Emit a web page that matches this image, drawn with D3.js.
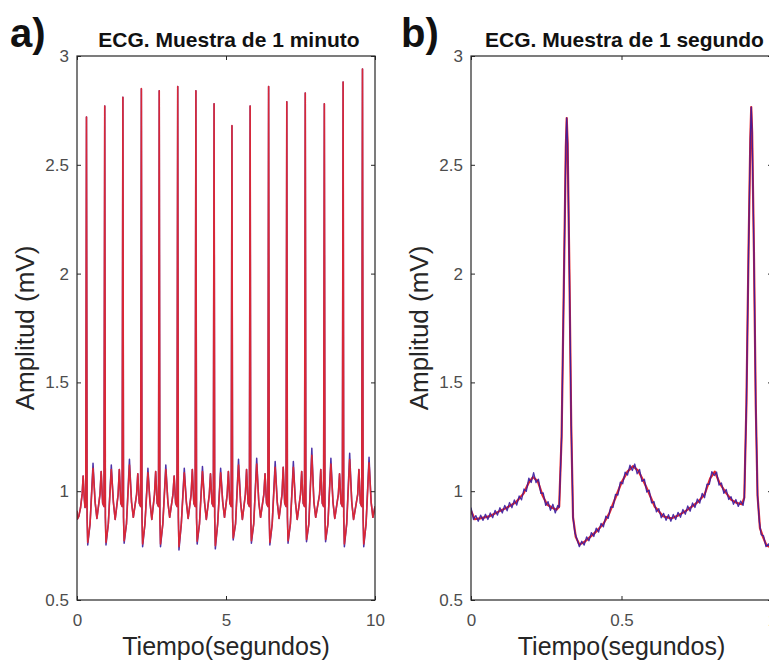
<!DOCTYPE html>
<html>
<head>
<meta charset="utf-8">
<script src="https://cdn.jsdelivr.net/npm/d3@7/dist/d3.min.js"></script>
<style>
    body { margin: 0; background: #fff; }
    svg { display: block; font-family: "Liberation Sans", Arial, Helvetica, sans-serif; }
</style>
</head>
<body>
<div id="chart"></div>
<script>
// ---- data ----
var yTicks = [0.5, 1, 1.5, 2, 2.5, 3];
var aTicks = [0, 5, 10];
var bTicks = [0, 0.5, 1];

// panel a: one value per heartbeat (R time in s, amplitudes in mV)
var aBeatTimes  = [0.318, 0.931, 1.54, 2.16, 2.76, 3.38, 3.99, 4.60, 5.20, 5.81, 6.43, 7.04, 7.66, 8.30, 8.93, 9.58];
var aRPeaks     = [2.72, 2.77, 2.81, 2.85, 2.84, 2.86, 2.84, 2.78, 2.68, 2.77, 2.86, 2.79, 2.83, 2.78, 2.88, 2.94];
var aSMinsBlue  = [0.753, 0.753, 0.761, 0.745, 0.745, 0.730, 0.757, 0.735, 0.776, 0.761, 0.753, 0.761, 0.768, 0.768, 0.745, 0.745];
var aSMinsRed   = [0.765, 0.765, 0.772, 0.758, 0.758, 0.745, 0.770, 0.750, 0.785, 0.772, 0.765, 0.772, 0.778, 0.778, 0.758, 0.758];
var aTPeaksBlue = [1.128, 1.120, 1.147, 1.105, 1.120, 1.105, 1.113, 1.105, 1.147, 1.151, 1.136, 1.136, 1.197, 1.151, 1.174, 1.156];
var aTPeaksRed  = [1.105, 1.100, 1.120, 1.085, 1.100, 1.085, 1.090, 1.085, 1.120, 1.125, 1.110, 1.110, 1.165, 1.125, 1.145, 1.130];
var aDips       = [0.875, 0.870, 0.880, 0.870, 0.880, 0.875, 0.870, 0.880, 0.870, 0.880, 0.875, 0.870, 0.880, 0.875, 0.870, 0.880];
var aPPeaks     = [1.090, 1.100, 1.080, 1.090, 1.070, 1.100, 1.080, 1.090, 1.100, 1.080, 1.110, 1.090, 1.100, 1.080, 1.100];
var aLead = [[0, 0.91], [0.012, 0.872], [0.06, 0.884], [0.12, 0.925], [0.175, 0.99], [0.206, 1.07], [0.238, 0.98], [0.268, 0.925]];
var aTail = [[10, 0.93]];

// beat shape (offsets from R in s, levels in mV) taken from panel b
var beatShape = {
    preDt: -0.025, preV: 0.93,
    postDt: 0.021, postV: 0.88,
    sDt: 0.042,
    stDt: 0.12, stV: 0.85,
    tDt: 0.22,
    tDownDt: 0.29, tDownV: 0.95,
    dipDt: 0.35,
    pUpDt: -0.16, pUpV: 0.985,
    pDt: -0.12,
    pDownDt: -0.07, pDownV: 0.945
};

// panel b: first second, filtered (red) and raw (blue)
var bRed = [
    [0.000, 0.910], [0.012, 0.872], [0.030, 0.875], [0.060, 0.884], [0.090, 0.905], [0.120, 0.925],
    [0.150, 0.950], [0.175, 0.990], [0.192, 1.040], [0.206, 1.065], [0.222, 1.045], [0.238, 0.980],
    [0.252, 0.940], [0.268, 0.925], [0.284, 0.915], [0.293, 0.930], [0.301, 1.250], [0.309, 2.000],
    [0.315, 2.580], [0.318, 2.715], [0.321, 2.600], [0.327, 2.000], [0.333, 1.300], [0.339, 0.880],
    [0.348, 0.790], [0.360, 0.755], [0.375, 0.765], [0.400, 0.795], [0.420, 0.820], [0.440, 0.850],
    [0.460, 0.900], [0.480, 0.970], [0.500, 1.040], [0.520, 1.090], [0.538, 1.115], [0.555, 1.095],
    [0.572, 1.050], [0.590, 0.995], [0.610, 0.930], [0.638, 0.885], [0.665, 0.875], [0.690, 0.890],
    [0.710, 0.906], [0.735, 0.930], [0.755, 0.952], [0.776, 0.985], [0.795, 1.060], [0.810, 1.090],
    [0.825, 1.040], [0.843, 1.000], [0.865, 0.960], [0.885, 0.945], [0.900, 0.940], [0.908, 0.970],
    [0.915, 1.400], [0.922, 2.100], [0.928, 2.620], [0.931, 2.765], [0.934, 2.650], [0.940, 2.100],
    [0.946, 1.400], [0.952, 0.980], [0.960, 0.830], [0.970, 0.790], [0.982, 0.750], [1.000, 0.740]
];
var bBlue = [
    [0.000, 0.925], [0.008, 0.870], [0.016, 0.888], [0.024, 0.862], [0.032, 0.890], [0.040, 0.866],
    [0.048, 0.894], [0.056, 0.870], [0.064, 0.900], [0.072, 0.878], [0.080, 0.912], [0.088, 0.890],
    [0.096, 0.924], [0.104, 0.900], [0.112, 0.935], [0.120, 0.910], [0.128, 0.948], [0.136, 0.924],
    [0.144, 0.960], [0.152, 0.936], [0.160, 0.978], [0.168, 0.960], [0.176, 1.010], [0.184, 1.000],
    [0.192, 1.060], [0.200, 1.040], [0.208, 1.085], [0.216, 1.040], [0.224, 1.055], [0.232, 0.990],
    [0.240, 0.992], [0.248, 0.935], [0.256, 0.952], [0.264, 0.912], [0.272, 0.940], [0.280, 0.900],
    [0.288, 0.935], [0.293, 0.925], [0.301, 1.250], [0.309, 2.000], [0.315, 2.580], [0.318, 2.715],
    [0.321, 2.600], [0.327, 2.000], [0.333, 1.300], [0.339, 0.880], [0.345, 0.810], [0.352, 0.780],
    [0.360, 0.745], [0.368, 0.770], [0.376, 0.752], [0.384, 0.790], [0.392, 0.772], [0.400, 0.810],
    [0.408, 0.792], [0.416, 0.830], [0.424, 0.812], [0.432, 0.852], [0.440, 0.836], [0.448, 0.885],
    [0.456, 0.875], [0.464, 0.928], [0.472, 0.926], [0.480, 0.985], [0.488, 0.982], [0.496, 1.042],
    [0.504, 1.034], [0.512, 1.088], [0.520, 1.074], [0.528, 1.120], [0.536, 1.095], [0.544, 1.125],
    [0.552, 1.080], [0.560, 1.100], [0.568, 1.045], [0.576, 1.055], [0.584, 0.996], [0.592, 1.005],
    [0.600, 0.946], [0.608, 0.952], [0.616, 0.905], [0.624, 0.920], [0.632, 0.878], [0.640, 0.898],
    [0.648, 0.866], [0.656, 0.892], [0.664, 0.862], [0.672, 0.893], [0.680, 0.870], [0.688, 0.903],
    [0.696, 0.880], [0.704, 0.916], [0.712, 0.894], [0.720, 0.932], [0.728, 0.908], [0.736, 0.946],
    [0.744, 0.925], [0.752, 0.964], [0.760, 0.945], [0.768, 0.990], [0.776, 0.970], [0.784, 1.032],
    [0.792, 1.032], [0.800, 1.090], [0.808, 1.072], [0.816, 1.088], [0.824, 1.028], [0.832, 1.038],
    [0.840, 0.990], [0.848, 1.008], [0.856, 0.962], [0.864, 0.975], [0.872, 0.940], [0.880, 0.962],
    [0.888, 0.930], [0.896, 0.955], [0.904, 0.935], [0.908, 0.970], [0.915, 1.400], [0.922, 2.100],
    [0.928, 2.620], [0.931, 2.765], [0.934, 2.650], [0.940, 2.100], [0.946, 1.400], [0.952, 0.980],
    [0.958, 0.860], [0.964, 0.800], [0.972, 0.795], [0.980, 0.745], [0.988, 0.758], [0.996, 0.735],
    [1.000, 0.740]
];

// ---- layout ----
var width = 769, height = 664;
var plotTop = 56, plotBottom = 600;
var axisColor = "#262626", tickTextColor = "#4d4d4d";
var redColor = "#e8262a", blueColor = "#3a1c9e";

function buildBeats(tPeaks, sMins) {
    var pts = aLead.slice();
    aBeatTimes.forEach(function (r, i) {
        pts.push([r + beatShape.preDt, beatShape.preV]);
        pts.push([r, aRPeaks[i]]);
        pts.push([r + beatShape.postDt, beatShape.postV]);
        pts.push([r + beatShape.sDt, sMins[i]]);
        pts.push([r + beatShape.stDt, beatShape.stV]);
        pts.push([r + beatShape.tDt, tPeaks[i]]);
        pts.push([r + beatShape.tDownDt, beatShape.tDownV]);
        pts.push([r + beatShape.dipDt, aDips[i]]);
        if (i < aBeatTimes.length - 1) {
            var next = aBeatTimes[i + 1];
            pts.push([next + beatShape.pUpDt, beatShape.pUpV]);
            pts.push([next + beatShape.pDt, aPPeaks[i]]);
            pts.push([next + beatShape.pDownDt, beatShape.pDownV]);
        }
    });
    return pts.concat(aTail);
}

// panel a: the red trace is the one that shows; panel b: the raw zigzag shows on top
var panels = [
    { tag: "a)", tagX: 10, title: "ECG. Muestra de 1 minuto", left: 77, right: 375, redOnTop: true,
      domain: [0, 10], ticks: aTicks, red: buildBeats(aTPeaksRed, aSMinsRed), blue: buildBeats(aTPeaksBlue, aSMinsBlue) },
    { tag: "b)", tagX: 401, title: "ECG. Muestra de 1 segundo", left: 471, right: 772, redOnTop: false,
      domain: [0, 1], ticks: bTicks, red: bRed, blue: bBlue }
];

var svg = d3.select("#chart")
    .append("svg")
    .attr("width", width)
    .attr("height", height);

function styleAxis(g, showText) {
    g.select(".domain").remove();
    g.selectAll(".tick line").attr("stroke", axisColor);
    g.selectAll(".tick text")
        .attr("fill", tickTextColor)
        .style("font-size", "17px")
        .style("font-family", "'Liberation Sans', Arial, sans-serif")
        .style("display", showText ? null : "none");
}

panels.forEach(function (p, idx) {
    var xScale = d3.scaleLinear().domain(p.domain).range([p.left, p.right]);
    var yScale = d3.scaleLinear().domain([0.5, 3]).range([plotBottom, plotTop]);
    var g = svg.append("g");

    g.append("clipPath").attr("id", "clip" + idx)
        .append("rect")
        .attr("x", p.left).attr("y", plotTop)
        .attr("width", p.right - p.left).attr("height", plotBottom - plotTop);

    var line = d3.line()
        .x(function (d) { return xScale(d[0]); })
        .y(function (d) { return yScale(d[1]); });

    var lines = g.append("g").attr("clip-path", "url(#clip" + idx + ")");

    function drawRed() {
        lines.append("path")
            .datum(p.red)
            .attr("d", line)
            .attr("fill", "none")
            .attr("stroke", redColor)
            .attr("stroke-opacity", p.redOnTop ? 0.9 : 1)
            .attr("stroke-width", p.redOnTop ? 1.6 : 2.2)
            .attr("stroke-linejoin", "round");
    }
    function drawBlue() {
        lines.append("path")
            .datum(p.blue)
            .attr("d", line)
            .attr("fill", "none")
            .attr("stroke", blueColor)
            .attr("stroke-opacity", 0.9)
            .attr("stroke-width", p.redOnTop ? 1.5 : 1.3)
            .attr("stroke-linejoin", "round");
    }
    if (p.redOnTop) { drawBlue(); drawRed(); } else { drawRed(); drawBlue(); }

    // axes, ticks pointing inwards like matlab
    g.append("g").attr("transform", "translate(0," + plotBottom + ")")
        .call(d3.axisBottom(xScale).tickValues(p.ticks).tickSize(-4).tickPadding(14).tickFormat(d3.format("")))
        .call(styleAxis, true);
    g.append("g").attr("transform", "translate(0," + plotTop + ")")
        .call(d3.axisTop(xScale).tickValues(p.ticks).tickSize(-4))
        .call(styleAxis, false);
    g.append("g").attr("transform", "translate(" + p.left + ",0)")
        .call(d3.axisLeft(yScale).tickValues(yTicks).tickSize(-4).tickPadding(8).tickFormat(d3.format("")))
        .call(styleAxis, true);
    g.append("g").attr("transform", "translate(" + p.right + ",0)")
        .call(d3.axisRight(yScale).tickValues(yTicks).tickSize(-4))
        .call(styleAxis, false);

    g.append("rect")
        .attr("x", p.left).attr("y", plotTop)
        .attr("width", p.right - p.left).attr("height", plotBottom - plotTop)
        .attr("fill", "none")
        .attr("stroke", axisColor)
        .attr("stroke-width", 1.2);

    var cx = (p.left + p.right) / 2;
    g.append("text")
        .attr("x", cx + 3).attr("y", 47)
        .attr("text-anchor", "middle")
        .style("font-size", "21px").style("font-weight", "bold")
        .attr("fill", "#111")
        .text(p.title);

    g.append("text")
        .attr("x", cx).attr("y", 655)
        .attr("text-anchor", "middle")
        .style("font-size", "25px")
        .attr("fill", axisColor)
        .text("Tiempo(segundos)");

    g.append("text")
        .attr("transform", "translate(" + (p.left - 43) + "," + ((plotTop + plotBottom) / 2) + ") rotate(-90)")
        .attr("text-anchor", "middle")
        .style("font-size", "26px")
        .attr("fill", axisColor)
        .text("Amplitud (mV)");

    g.append("text")
        .attr("x", p.tagX).attr("y", 47)
        .style("font-size", "40px").style("font-weight", "bold")
        .attr("fill", "#111")
        .text(p.tag);
});
</script>
</body>
</html>
